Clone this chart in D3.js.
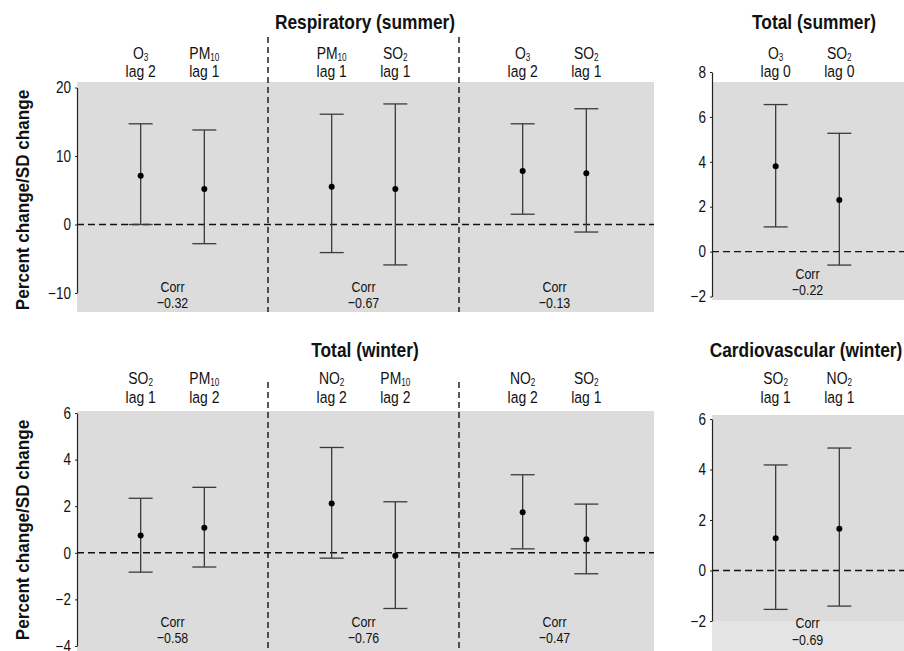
<!DOCTYPE html>
<html>
<head>
<meta charset="utf-8">
<script src="https://cdn.jsdelivr.net/npm/d3@7"></script>
<style>
  html, body { margin: 0; padding: 0; background: #fff; }
  svg text { font-family: "Liberation Sans", Arial, sans-serif; fill: #111; }
</style>
</head>
<body>
<svg id="chart" width="904" height="651"></svg>
<script>
// --- data ---
const respTitle = 'Respiratory (summer)';
const respPollutants = ['O3', 'PM10', 'PM10', 'SO2', 'O3', 'SO2'];
const respLags = ['lag 2', 'lag 1', 'lag 1', 'lag 1', 'lag 2', 'lag 1'];
const respEst = [7.1, 5.2, 5.5, 5.2, 7.8, 7.5];
const respLow = [0.0, -2.8, -4.1, -5.9, 1.5, -1.1];
const respHigh = [14.7, 13.8, 16.1, 17.6, 14.7, 16.9];
const respCorr = ['−0.32', '−0.67', '−0.13'];
const respTicks = [20, 10, 0, -10];

const totSumTitle = 'Total (summer)';
const totSumPollutants = ['O3', 'SO2'];
const totSumLags = ['lag 0', 'lag 0'];
const totSumEst = [3.8, 2.3];
const totSumLow = [1.1, -0.6];
const totSumHigh = [6.55, 5.27];
const totSumCorr = ['−0.22'];
const totSumTicks = [8, 6, 4, 2, 0, -2];

const totWinTitle = 'Total (winter)';
const totWinPollutants = ['SO2', 'PM10', 'NO2', 'PM10', 'NO2', 'SO2'];
const totWinLags = ['lag 1', 'lag 2', 'lag 2', 'lag 2', 'lag 2', 'lag 1'];
const totWinEst = [0.74, 1.07, 2.12, -0.13, 1.74, 0.58];
const totWinLow = [-0.83, -0.61, -0.23, -2.39, 0.17, -0.9];
const totWinHigh = [2.34, 2.81, 4.52, 2.19, 3.35, 2.09];
const totWinCorr = ['−0.58', '−0.76', '−0.47'];
const totWinTicks = [6, 4, 2, 0, -2, -4];

const cardTitle = 'Cardiovascular (winter)';
const cardPollutants = ['SO2', 'NO2'];
const cardLags = ['lag 1', 'lag 1'];
const cardEst = [1.28, 1.65];
const cardLow = [-1.54, -1.41];
const cardHigh = [4.18, 4.85];
const cardCorr = ['−0.69'];
const cardTicks = [6, 4, 2, 0, -2];

const yAxisTitle = 'Percent change/SD change';

// --- layout ---
const panels = [
  { title: respTitle, pol: respPollutants, lag: respLags, est: respEst, lo: respLow, hi: respHigh, corr: respCorr, ticks: respTicks,
    x0: 77, x1: 650, bgRight: 654, yTop: 87.5, yBot: 293, bgTop: 82, bgBot: 312,
    titleX: 365, titleY: 29, lab1Y: 59, lab2Y: 77, corr1Y: 292, corr2Y: 308, divTop: 37 },
  { title: totSumTitle, pol: totSumPollutants, lag: totSumLags, est: totSumEst, lo: totSumLow, hi: totSumHigh, corr: totSumCorr, ticks: totSumTicks,
    x0: 712, x1: 903, bgRight: 904, yTop: 72, yBot: 296.5, bgTop: 82, bgBot: 300,
    titleX: 814, titleY: 29, lab1Y: 59, lab2Y: 77, corr1Y: 279, corr2Y: 295 },
  { title: totWinTitle, pol: totWinPollutants, lag: totWinLags, est: totWinEst, lo: totWinLow, hi: totWinHigh, corr: totWinCorr, ticks: totWinTicks,
    x0: 77, x1: 650, bgRight: 654, yTop: 413, yBot: 646, bgTop: 411, bgBot: 651,
    titleX: 365, titleY: 357, lab1Y: 384, lab2Y: 403, corr1Y: 627, corr2Y: 643, divTop: 382 },
  { title: cardTitle, pol: cardPollutants, lag: cardLags, est: cardEst, lo: cardLow, hi: cardHigh, corr: cardCorr, ticks: cardTicks,
    x0: 712, x1: 903, bgRight: 904, yTop: 419, yBot: 621, bgTop: 415, bgBot: 621, bandBot: 651,
    titleX: 806, titleY: 357, lab1Y: 384, lab2Y: 403, corr1Y: 628, corr2Y: 645 }
];

const NARROW = 0.82;   // horizontal squeeze to mimic a condensed face
const BOLD_NARROW = 0.89;

const svg = d3.select('#chart');

function addText(g, x, y, size, squeeze, bold) {
  return g.append('text')
    .attr('transform', `translate(${x},${y}) scale(${squeeze},1)`)
    .attr('text-anchor', 'middle')
    .attr('font-size', size)
    .attr('font-weight', bold ? 'bold' : null);
}

function drawPanel(p) {
  const g = svg.append('g');
  const nPairs = p.corr.length;
  const x = d3.scaleLinear().domain([0, nPairs * 3]).range([p.x0, p.x1]);
  const y = d3.scaleLinear().domain([d3.min(p.ticks), d3.max(p.ticks)]).range([p.yBot, p.yTop]);
  const slot = i => Math.floor(i / 2) * 3 + 1 + (i % 2);

  g.append('rect')
    .attr('x', p.x0).attr('y', p.bgTop)
    .attr('width', p.bgRight - p.x0).attr('height', p.bgBot - p.bgTop)
    .attr('fill', '#dcdcdc');
  if (p.bandBot) {
    g.append('rect')
      .attr('x', p.x0).attr('y', p.bgBot)
      .attr('width', p.bgRight - p.x0).attr('height', p.bandBot - p.bgBot)
      .attr('fill', '#e4e4e4');
  }

  // zero reference line
  g.append('line')
    .attr('x1', p.x0).attr('x2', p.bgRight)
    .attr('y1', y(0)).attr('y2', y(0))
    .attr('stroke', '#111').attr('stroke-width', 1.4)
    .attr('stroke-dasharray', '7,4');

  // dividers between pollutant pairs
  if (p.divTop !== undefined) {
    g.selectAll('.divider')
      .data(d3.range(1, nPairs))
      .enter().append('line')
      .attr('class', 'divider')
      .attr('x1', d => x(d * 3)).attr('x2', d => x(d * 3))
      .attr('y1', p.divTop).attr('y2', p.bandBot || p.bgBot)
      .attr('stroke', '#111').attr('stroke-width', 1.4)
      .attr('stroke-dasharray', '6,4');
  }

  const idx = d3.range(p.est.length);
  const capW = 12;

  g.selectAll('.whisker')
    .data(idx).enter().append('line')
    .attr('x1', i => x(slot(i))).attr('x2', i => x(slot(i)))
    .attr('y1', i => y(p.hi[i])).attr('y2', i => y(p.lo[i]))
    .attr('stroke', '#3a3a3a').attr('stroke-width', 1.3);

  ['hi', 'lo'].forEach(k => {
    g.selectAll('.cap-' + k)
      .data(idx).enter().append('line')
      .attr('x1', i => x(slot(i)) - capW).attr('x2', i => x(slot(i)) + capW)
      .attr('y1', i => y(p[k][i])).attr('y2', i => y(p[k][i]))
      .attr('stroke', '#3a3a3a').attr('stroke-width', 1.3);
  });

  g.selectAll('.pt')
    .data(idx).enter().append('circle')
    .attr('cx', i => x(slot(i))).attr('cy', i => y(p.est[i]))
    .attr('r', 3).attr('fill', '#000');

  // axis
  const axis = g.append('g')
    .attr('transform', `translate(${p.x0},0)`)
    .call(d3.axisLeft(y).tickValues(p.ticks).tickSize(2).tickSizeOuter(0).tickPadding(4));
  axis.select('.domain').attr('stroke', '#222').attr('stroke-width', 1.2);
  axis.selectAll('.tick line').attr('stroke', '#222');
  axis.selectAll('.tick text')
    .attr('font-size', 16.5)
    .attr('font-family', '"Liberation Sans", Arial, sans-serif')
    .attr('x', -6 / NARROW)
    .attr('transform', `scale(${NARROW},1)`)
    .style('fill', '#111');

  // panel title
  addText(g, p.titleX, p.titleY, 19.5, BOLD_NARROW, true).text(p.title);

  // column labels
  idx.forEach(i => {
    const m = p.pol[i].match(/^([A-Z]+)(\d+)$/);
    const t = addText(g, x(slot(i)), p.lab1Y, 17, NARROW, false);
    t.append('tspan').text(m[1]);
    t.append('tspan').attr('font-size', 10).attr('dy', 2).text(m[2]);
    addText(g, x(slot(i)), p.lab2Y, 17, NARROW, false).text(p.lag[i]);
  });

  // correlation notes
  p.corr.forEach((c, k) => {
    const cx = x(k * 3 + 1.5);
    addText(g, cx, p.corr1Y, 15.5, 0.8, false).text('Corr');
    addText(g, cx, p.corr2Y, 15.5, 0.8, false).text(c);
  });
}

panels.forEach(drawPanel);

// shared y-axis titles
[200, 530].forEach(cy => {
  svg.append('text')
    .attr('transform', `translate(29,${cy}) rotate(-90) scale(0.9,1)`)
    .attr('text-anchor', 'middle')
    .attr('font-size', 19).attr('font-weight', 'bold')
    .text(yAxisTitle);
});
</script>
</body>
</html>
